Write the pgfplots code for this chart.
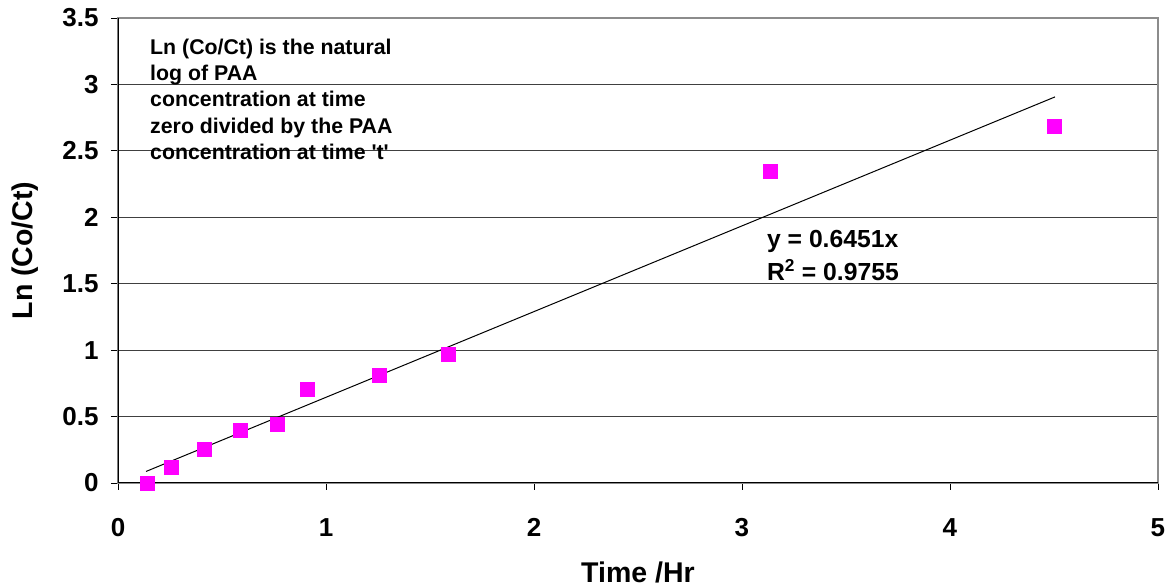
\documentclass[border=0pt]{standalone}
\usepackage{pgfplots}
\pgfplotsset{compat=1.18}
\usepackage{fontspec}
\setmainfont{Liberation Sans}
\definecolor{pointmag}{RGB}{255,0,255}

\begin{document}
\begin{tikzpicture}
  \path[use as bounding box] (-118pt,-105pt) rectangle (1053pt,483pt);
  \begin{axis}[
      at={(0,0)}, anchor=south west,
      width=1040pt, height=465pt, scale only axis,
      xmin=0, xmax=5, ymin=0, ymax=3.5,
      xtick={0,1,...,5},
      ytick={0,0.5,...,3.5},
      yticklabels={0,0.5,1,1.5,2,2.5,3,3.5},
      ymajorgrids,
      grid style={black!75, line width=0.9pt},
      axis line style={black!45, line width=1.2pt},
      tick align=outside,
      xtick pos=bottom, ytick pos=left,
      major tick length=7pt,
      tick style={black, line width=0.9pt},
      ticklabel style={font=\fontsize{26}{30}\selectfont\bfseries},
      /pgf/number format/assume math mode=true,
      xticklabel style={yshift=-25pt},
      yticklabel style={xshift=-9pt},
      xlabel={Time /Hr},
      ylabel={Ln (Co/Ct)},
      label style={font=\fontsize{28.5}{32}\selectfont\bfseries},
      xlabel style={at={(axis description cs:0.5,0)}, anchor=center, yshift=-89pt},
      ylabel style={at={(axis description cs:0,0.5)}, anchor=center, yshift=93pt},
    ]
    % axis lines left and bottom in black
    \draw[black, line width=1.2pt] (rel axis cs:0,1) -- (rel axis cs:0,0) -- (rel axis cs:1,0);

    % trend line y = 0.6451x
    \addplot[black, line width=1pt, no marks] coordinates {
      (0.135, 0.087)
      (4.505, 2.906)
    };

    % measured points
    \addplot[only marks, mark=square*, mark size=7pt,
             mark options={fill=pointmag, draw=pointmag}] coordinates {
      (0.139, 0.000)
      (0.255, 0.120)
      (0.413, 0.256)
      (0.587, 0.400)
      (0.764, 0.444)
      (0.909, 0.707)
      (1.255, 0.813)
      (1.587, 0.970)
      (3.135, 2.348)
      (4.500, 2.686)
    };

    \node[anchor=north west, align=left, inner sep=0pt,
          font=\fontsize{21.3}{26.3}\selectfont\bfseries]
      at (axis cs:0.154,3.345)
      {Ln (Co/Ct) is the natural\\log of PAA\\concentration at time\\zero divided by the PAA\\concentration at time \textquotesingle t\textquotesingle};

    \node[anchor=west, align=left, inner sep=0pt,
          font=\fontsize{24.7}{33}\selectfont\bfseries]
      at (axis cs:3.12,1.71)
      {y = 0.6451x\\R\textsuperscript{2} = 0.9755};
  \end{axis}
\end{tikzpicture}
\end{document}
